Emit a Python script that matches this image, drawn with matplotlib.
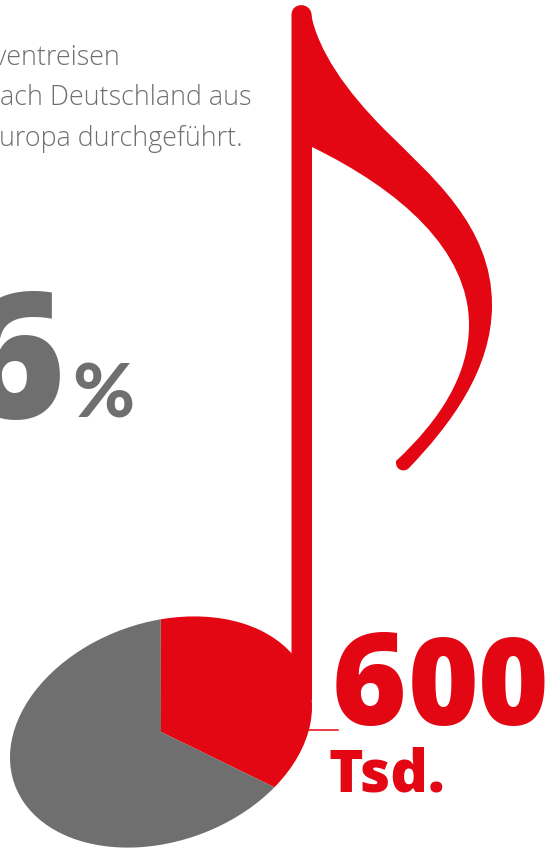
import matplotlib
matplotlib.use('Agg')
import matplotlib.pyplot as plt
from matplotlib.patches import PathPatch
from matplotlib.path import Path
from matplotlib.transforms import Affine2D

RED = '#e30613'
GREY = '#706f6f'
H = 848

# pie values (note head), percent
shares = [36.5, 63.5]
share_colors = [RED, GREY]

body_lines = ['ventreisen', 'ach Deutschland aus', 'uropa durchgeführt.']
body_baselines = [65, 105, 146]
body_right = [120, 252, 243]

fig = plt.figure(figsize=(5.54, 8.48), dpi=100)
ax = fig.add_axes([0, 0, 1, 1])


def px_path(verts, codes):
    # picture coordinates (y down) -> data coordinates
    return Path([(x, H - y) for x, y in verts], codes)


M, L, C = Path.MOVETO, Path.LINETO, Path.CURVE4

# ------------------------------------------------------------------
# pie, squeezed into the tilted note head
# ------------------------------------------------------------------
wedges, _ = ax.pie(shares, colors=share_colors, startangle=76, counterclock=False, radius=1)
head = Affine2D().scale(155.5, 109.5).rotate_deg(19.6).translate(161, H - 732) + ax.transData
for w in wedges:
    w.set_transform(head)
    w.set_linewidth(0)

ax.set_xlim(0, 554)
ax.set_ylim(0, H)
ax.set_aspect('auto')
ax.axis('off')

# ------------------------------------------------------------------
# stem + flag
# ------------------------------------------------------------------
stem = px_path([(291.5, 700), (291.5, 15), (291.5, 2), (310, 2), (311.5, 14), (312, 20), (312, 700), (291.5, 700)],
               [M, L, C, C, C, L, L, L])
ax.add_patch(PathPatch(stem, fc=RED, ec='none', zorder=3))

flag = px_path([(311, 14),
                (318, 50), (345, 90), (385, 130),
                (430, 175), (492, 225), (492, 305),
                (492, 370), (450, 425), (409, 468),
                (404, 473), (395, 470), (396, 461),
                (440, 420), (469, 375), (469, 325),
                (469, 250), (400, 190), (312, 147),
                (311, 14)],
               [M, C, C, C, C, C, C, C, C, C, C, C, C, C, C, C, C, C, C, L])
ax.add_patch(PathPatch(flag, fc=RED, ec='none', zorder=3))

# thin line from the pie to the label
ax.plot([305, 338], [H - 729.5, H - 729.5], color=RED, lw=1.1, zorder=3)

# ------------------------------------------------------------------
# text
# ------------------------------------------------------------------
for line, base, right in zip(body_lines, body_baselines, body_right):
    ax.text(right, H - base, line, family='Open Sans', weight='light', fontsize=19.4,
            color=GREY, ha='right', va='baseline')

ax.text(65, H - 418, '6', family='Open Sans', weight=800, fontsize=127, color=GREY, ha='right', va='baseline')
ax.text(134, H - 417, '%', family='Lato', weight='black', fontsize=54, color=GREY, ha='right', va='baseline')

ax.text(406, H - 725, '6', family='Open Sans', weight=800, fontsize=92, color=RED, ha='right', va='baseline')
ax.text(549, H - 725, '00', family='Open Sans', weight=800, fontsize=87, color=RED, ha='right', va='baseline')
ax.text(329, H - 791, 'Tsd.', family='Open Sans', weight=800, fontsize=42, color=RED, ha='left', va='baseline')

fig.savefig('out.png', dpi=100)
